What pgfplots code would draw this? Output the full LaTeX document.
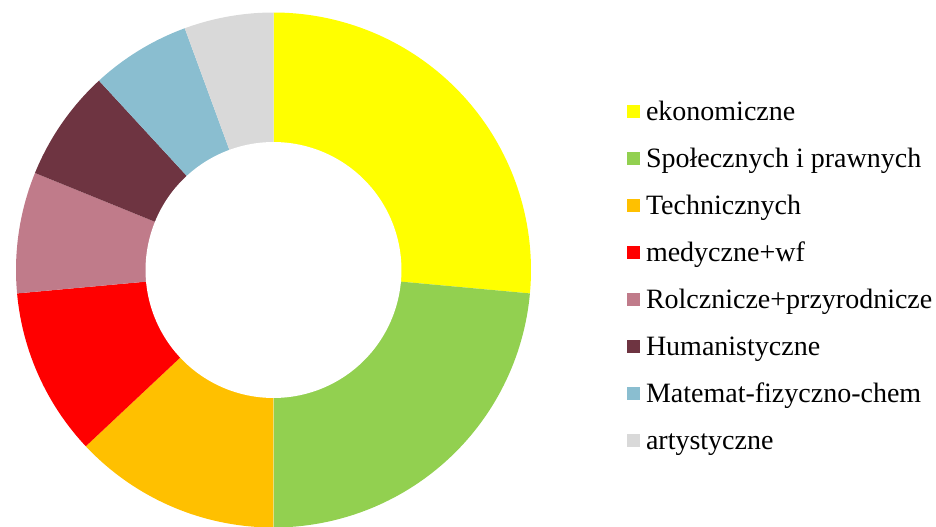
\documentclass[border=0pt]{standalone}
\usepackage{fontspec}
\setmainfont{Liberation Serif}
\usepackage{pgfplots}
\pgfplotsset{compat=1.18}
\usepgfplotslibrary{polar}
\definecolor{cA}{HTML}{FFFF00}
\definecolor{cB}{HTML}{92D050}
\definecolor{cC}{HTML}{FFC000}
\definecolor{cD}{HTML}{FF0000}
\definecolor{cE}{HTML}{C07B8A}
\definecolor{cF}{HTML}{6E3441}
\definecolor{cG}{HTML}{8ABED0}
\definecolor{cH}{HTML}{D9D9D9}
% shares in percent
\def\vA{26.45}\def\vB{23.55}\def\vC{13.0}\def\vD{10.55}
\def\vE{7.6}\def\vF{7.0}\def\vG{6.25}\def\vH{5.6}
\begin{document}
\begin{tikzpicture}
\pgfmathsetmacro\tA{90}
\pgfmathsetmacro\tB{\tA-3.6*\vA}
\pgfmathsetmacro\tC{\tB-3.6*\vB}
\pgfmathsetmacro\tD{\tC-3.6*\vC}
\pgfmathsetmacro\tE{\tD-3.6*\vD}
\pgfmathsetmacro\tF{\tE-3.6*\vE}
\pgfmathsetmacro\tG{\tF-3.6*\vF}
\pgfmathsetmacro\tH{\tG-3.6*\vG}
\pgfmathsetmacro\tI{\tH-3.6*\vH}
\path[use as bounding box] (0,0) rectangle (936bp,527bp);
\begin{polaraxis}[
  at={(273.5bp,257bp)}, anchor=center,
  scale only axis, width=515bp, height=515bp,
  xmin=0, xmax=360, ymin=0, ymax=1,
  hide axis, clip=false,
  legend cell align=left,
  legend style={at={(1.1864,0.830)}, anchor=north west, draw=none, fill=none,
    inner sep=0pt, outer sep=0pt,
    font=\fontsize{28bp}{33bp}\selectfont,
    row sep=21bp,
    nodes={inner sep=0pt, text height=20bp, text depth=6bp},
    /tikz/every odd column/.append style={column sep=6bp}},
  legend image code/.code={\fill[#1] (0bp,-5bp) rectangle (13bp,8bp);},
]
\addplot[fill=cA, draw=none, domain=\tB:\tA, samples=100] {1} -- (axis cs:0,0) -- cycle;
\addlegendentry{ekonomiczne}
\addplot[fill=cB, draw=none, domain=\tC:\tB, samples=100] {1} -- (axis cs:0,0) -- cycle;
\addlegendentry{Społecznych i prawnych}
\addplot[fill=cC, draw=none, domain=\tD:\tC, samples=60] {1} -- (axis cs:0,0) -- cycle;
\addlegendentry{Technicznych}
\addplot[fill=cD, draw=none, domain=\tE:\tD, samples=60] {1} -- (axis cs:0,0) -- cycle;
\addlegendentry{medyczne+wf}
\addplot[fill=cE, draw=none, domain=\tF:\tE, samples=40] {1} -- (axis cs:0,0) -- cycle;
\addlegendentry{Rolcznicze+przyrodnicze}
\addplot[fill=cF, draw=none, domain=\tG:\tF, samples=40] {1} -- (axis cs:0,0) -- cycle;
\addlegendentry{Humanistyczne}
\addplot[fill=cG, draw=none, domain=\tH:\tG, samples=40] {1} -- (axis cs:0,0) -- cycle;
\addlegendentry{Matemat-fizyczno-chem}
\addplot[fill=cH, draw=none, domain=\tI:\tH, samples=40] {1} -- (axis cs:0,0) -- cycle;
\addlegendentry{artystyczne}
\addplot[fill=white, draw=none, domain=0:360, samples=181, forget plot] {0.497} -- cycle;
\end{polaraxis}
\end{tikzpicture}
\end{document}
